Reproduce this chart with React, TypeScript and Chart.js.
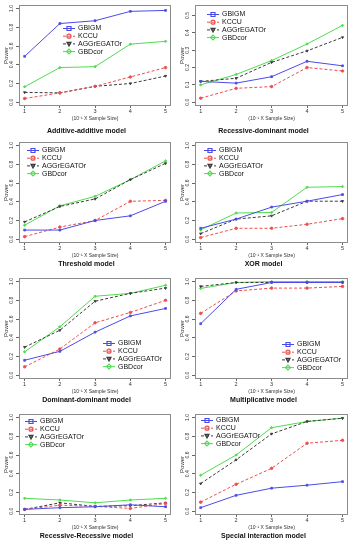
import React, { useEffect, useRef } from 'react';
import { Chart, registerables } from 'chart.js';

Chart.register(...registerables);
Chart.defaults.font.family = '"Liberation Sans", Arial, Helvetica, sans-serif';

// ---------- DATA ----------
const xValues = [1, 2, 3, 4, 5];
const seriesNames = ['GBIGM', 'KCCU', 'AGGrEGATOr', 'GBDcor'];
const xAxisTitle = '(10\u207B\u00B9 X Sample Size)';
const yAxisTitle = 'Power';
const yTicksUnit = [0, 0.2, 0.4, 0.6, 0.8, 1.0];
const yTicksHalf = [0, 0.1, 0.2, 0.3, 0.4, 0.5];

// rows: GBIGM, KCCU, AGGrEGATOr, GBDcor
const additiveAdditive = [
  [0.49, 0.84, 0.87, 0.97, 0.98],
  [0.04, 0.10, 0.17, 0.27, 0.37],
  [0.105, 0.10, 0.17, 0.20, 0.28],
  [0.165, 0.37, 0.38, 0.62, 0.65],
];
const recessiveDominant = [
  [0.12, 0.11, 0.147, 0.236, 0.21],
  [0.023, 0.08, 0.09, 0.20, 0.18],
  [0.12, 0.138, 0.23, 0.296, 0.374],
  [0.10, 0.16, 0.24, 0.336, 0.443],
];
const threshold = [
  [0.098, 0.098, 0.20, 0.25, 0.405],
  [0.028, 0.13, 0.20, 0.405, 0.415],
  [0.185, 0.35, 0.43, 0.636, 0.81],
  [0.15, 0.357, 0.458, 0.636, 0.836],
];
const xorModel = [
  [0.117, 0.215, 0.343, 0.406, 0.477],
  [0.018, 0.117, 0.117, 0.16, 0.22],
  [0.06, 0.215, 0.25, 0.406, 0.406],
  [0.10, 0.28, 0.286, 0.555, 0.562],
];
const dominantDominant = [
  [0.16, 0.255, 0.46, 0.633, 0.713],
  [0.09, 0.28, 0.56, 0.67, 0.80],
  [0.30, 0.48, 0.79, 0.874, 0.93],
  [0.25, 0.517, 0.843, 0.874, 0.96],
];
const multiplicative = [
  [0.55, 0.917, 0.99, 0.99, 0.99],
  [0.66, 0.90, 0.93, 0.93, 0.948],
  [0.948, 0.99, 0.99, 0.99, 0.99],
  [0.927, 0.99, 1.0, 1.0, 1.0],
];
const recessiveRecessive = [
  [0.02, 0.038, 0.048, 0.069, 0.048],
  [0.02, 0.065, 0.052, 0.03, 0.083],
  [0.02, 0.09, 0.052, 0.059, 0.09],
  [0.138, 0.12, 0.09, 0.12, 0.138],
];
const specialInteraction = [
  [0.038, 0.17, 0.246, 0.278, 0.316],
  [0.097, 0.288, 0.458, 0.726, 0.757],
  [0.295, 0.549, 0.826, 0.958, 0.993],
  [0.385, 0.60, 0.892, 0.958, 0.993],
];

// ---------- STYLES / LAYOUT ----------
const seriesStyles = [
  { color: '#4b4bea', dash: [] as number[], point: 'rect', rotation: 0 },
  { color: '#ee4d4d', dash: [3, 2], point: 'circle', rotation: 0 },
  { color: '#3a3a3a', dash: [3, 2], point: 'triangle', rotation: 180 },
  { color: '#4fdc4f', dash: [] as number[], point: 'rectRot', rotation: 0 },
];

const X_MIN = 0.84;
const X_MAX = 5.16;
const colLefts = [0, 176];
const colWidths = [176, 177];
const rowTops = [0, 137, 273, 409];
const PANEL_H = 137;

type PanelCfg = {
  title: string;
  data: number[][];
  yTicks: number[];
  yMin: number;
  yMax: number;
  legend: { x: number; y: number };
  row: number;
  col: number;
};

const panels: PanelCfg[] = [
  { title: 'Additive-additive model', data: additiveAdditive, yTicks: yTicksUnit, yMin: -0.04, yMax: 1.04, legend: { x: 63, y: 28 }, row: 0, col: 0 },
  { title: 'Recessive-dominant model', data: recessiveDominant, yTicks: yTicksHalf, yMin: -0.022, yMax: 0.562, legend: { x: 31, y: 14 }, row: 0, col: 1 },
  { title: 'Threshold model', data: threshold, yTicks: yTicksUnit, yMin: -0.04, yMax: 1.04, legend: { x: 27, y: 13 }, row: 1, col: 0 },
  { title: 'XOR model', data: xorModel, yTicks: yTicksUnit, yMin: -0.04, yMax: 1.04, legend: { x: 28, y: 13 }, row: 1, col: 1 },
  { title: 'Dominant-dominant model', data: dominantDominant, yTicks: yTicksUnit, yMin: -0.04, yMax: 1.04, legend: { x: 103, y: 70 }, row: 2, col: 0 },
  { title: 'Multiplicative model', data: multiplicative, yTicks: yTicksUnit, yMin: -0.04, yMax: 1.04, legend: { x: 106, y: 71 }, row: 2, col: 1 },
  { title: 'Recessive-Recessive model', data: recessiveRecessive, yTicks: yTicksUnit, yMin: -0.04, yMax: 1.04, legend: { x: 25, y: 12 }, row: 3, col: 0 },
  { title: 'Special interaction model', data: specialInteraction, yTicks: yTicksUnit, yMin: -0.04, yMax: 1.04, legend: { x: 25, y: 11 }, row: 3, col: 1 },
];

function drawSymbol(ctx: CanvasRenderingContext2D, style: string, cx: number, cy: number, r: number) {
  ctx.beginPath();
  if (style === 'rect') {
    ctx.rect(cx - r, cy - r, 2 * r, 2 * r);
  } else if (style === 'circle') {
    ctx.arc(cx, cy, r, 0, Math.PI * 2);
  } else if (style === 'triangle') {
    ctx.moveTo(cx - r, cy - r * 0.8);
    ctx.lineTo(cx + r, cy - r * 0.8);
    ctx.lineTo(cx, cy + r);
    ctx.closePath();
  } else {
    ctx.moveTo(cx, cy - r * 1.2);
    ctx.lineTo(cx + r * 1.2, cy);
    ctx.lineTo(cx, cy + r * 1.2);
    ctx.lineTo(cx - r * 1.2, cy);
    ctx.closePath();
  }
  ctx.stroke();
}

const panelDecor = {
  id: 'panelDecor',
  afterDraw(chart: any, _args: any, opts: any) {
    const { ctx, chartArea } = chart;
    const yScale = chart.scales.y;
    ctx.save();
    // plot box
    ctx.strokeStyle = '#8c8c8c';
    ctx.lineWidth = 1;
    ctx.setLineDash([]);
    ctx.strokeRect(
      Math.round(chartArea.left) + 0.5,
      Math.round(chartArea.top) + 0.5,
      Math.round(chartArea.right - chartArea.left) - 1,
      Math.round(chartArea.bottom - chartArea.top) - 1
    );
    // rotated y tick labels
    ctx.fillStyle = '#333';
    ctx.font = '5px "Liberation Sans", Arial, sans-serif';
    ctx.textAlign = 'center';
    ctx.textBaseline = 'middle';
    for (const t of yScale.ticks) {
      const py = yScale.getPixelForValue(t.value);
      ctx.save();
      ctx.translate(yScale.right - 7, py);
      ctx.rotate(-Math.PI / 2);
      ctx.fillText(Number(t.value).toFixed(1), 0, 0);
      ctx.restore();
    }
    // legend
    const lx = opts.x;
    let ly = opts.y;
    ctx.font = '7px "Liberation Sans", Arial, sans-serif';
    ctx.textAlign = 'left';
    chart.data.datasets.forEach((ds: any) => {
      ctx.strokeStyle = ds.borderColor;
      ctx.lineWidth = 1;
      ctx.setLineDash(ds.borderDash || []);
      ctx.beginPath();
      ctx.moveTo(lx, ly + 0.5);
      ctx.lineTo(lx + 12, ly + 0.5);
      ctx.stroke();
      ctx.setLineDash([]);
      ctx.lineWidth = 1.2;
      drawSymbol(ctx, ds.pointStyle, lx + 6, ly + 0.5, 2);
      ctx.fillStyle = '#111';
      ctx.fillText(ds.label, lx + 15, ly + 0.5);
      ly += 7.7;
    });
    ctx.restore();
  },
};

function Panel({ cfg }: { cfg: PanelCfg }) {
  const ref = useRef<HTMLCanvasElement>(null);
  const w = colWidths[cfg.col];
  useEffect(() => {
    if (!ref.current) return;
    const datasets = cfg.data.map((vals, si) => ({
      label: seriesNames[si],
      data: xValues.map((x, i) => ({ x, y: vals[i] })),
      borderColor: seriesStyles[si].color,
      backgroundColor: seriesStyles[si].color,
      borderDash: seriesStyles[si].dash,
      borderWidth: 1,
      pointStyle: seriesStyles[si].point,
      rotation: seriesStyles[si].rotation,
      pointRadius: 1.3,
      pointBorderWidth: 0.8,
      tension: 0,
    }));
    const titlePadding = cfg.row === 0 ? { top: 5, bottom: 2.5 } : { top: 1, bottom: 6.5 };
    const chart = new Chart(ref.current, {
      type: 'line',
      data: { datasets } as any,
      plugins: [panelDecor as any],
      options: {
        responsive: false,
        animation: false,
        devicePixelRatio: 1,
        layout: { padding: { top: 4, right: cfg.col === 0 ? 3 : 2, left: 0, bottom: 0 } },
        plugins: {
          legend: { display: false },
          tooltip: { enabled: false },
          title: {
            display: true,
            position: 'bottom',
            text: cfg.title,
            color: '#111',
            font: { size: 7, weight: 'bold', lineHeight: 1 },
            padding: titlePadding,
          },
          panelDecor: { x: cfg.legend.x, y: cfg.legend.y },
        } as any,
        scales: {
          x: {
            type: 'linear',
            min: X_MIN,
            max: X_MAX,
            afterBuildTicks: (s: any) => {
              s.ticks = xValues.map((v) => ({ value: v }));
            },
            grid: { display: true, drawOnChartArea: false, drawTicks: true, tickLength: 2, color: '#666' },
            border: { display: false },
            ticks: {
              font: { size: 5.5, lineHeight: 1 },
              color: '#333',
              padding: 1,
              maxRotation: 0,
              autoSkip: false,
              callback: (v: any) => String(v),
            },
            title: {
              display: true,
              text: xAxisTitle,
              color: '#333',
              font: { size: 5, lineHeight: 1 },
              padding: { top: 1, bottom: 1 },
            },
          },
          y: {
            type: 'linear',
            min: cfg.yMin,
            max: cfg.yMax,
            afterBuildTicks: (s: any) => {
              s.ticks = cfg.yTicks.map((v) => ({ value: v }));
            },
            grid: { display: true, drawOnChartArea: false, drawTicks: true, tickLength: 3, color: '#666' },
            border: { display: false },
            ticks: { display: false },
            title: {
              display: true,
              text: yAxisTitle,
              color: '#333',
              font: { size: 6, lineHeight: 1 },
              padding: { top: 3, bottom: 7 },
            },
          },
        } as any,
      },
    });
    return () => chart.destroy();
  }, [cfg]);
  return (
    <canvas
      ref={ref}
      width={w}
      height={PANEL_H}
      style={{
        position: 'absolute',
        left: colLefts[cfg.col],
        top: rowTops[cfg.row],
        width: w,
        height: PANEL_H,
      }}
    />
  );
}

export default function App() {
  return (
    <div
      style={{
        position: 'absolute',
        left: 0,
        top: 0,
        width: 353,
        height: 550,
        background: '#ffffff',
        overflow: 'hidden',
      }}
    >
      {panels.map((p, i) => (
        <Panel key={i} cfg={p} />
      ))}
    </div>
  );
}
